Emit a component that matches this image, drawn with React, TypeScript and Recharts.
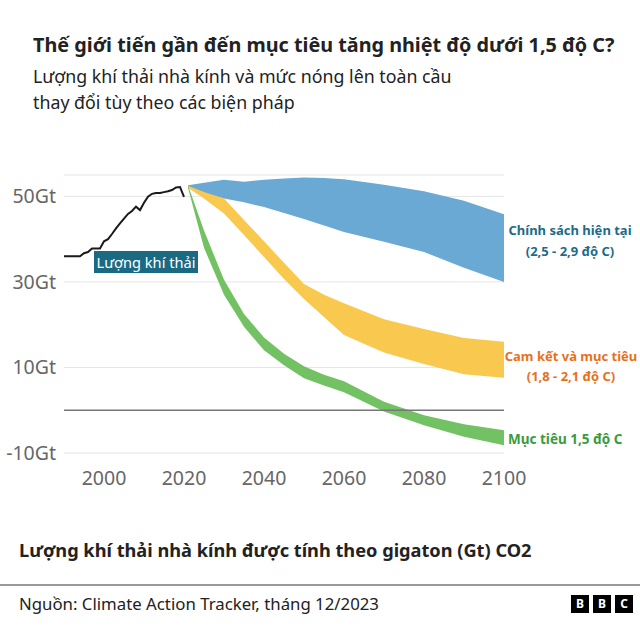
import { ComposedChart, Area, Line, XAxis, YAxis, CartesianGrid, ReferenceLine } from 'recharts';

// historical emissions, Gt CO2
const histYears = [1990, 1991, 1992, 1993, 1994, 1995, 1996, 1997, 1998, 1999, 2000, 2001, 2002, 2003, 2004, 2005, 2006, 2007, 2008, 2009, 2010, 2011, 2012, 2013, 2014, 2015, 2016, 2017, 2018, 2019, 2020];
const histValues = [36, 36, 36, 36, 36, 36.7, 37, 37.8, 37.8, 37.8, 39.5, 40, 41.2, 42.5, 43.7, 44.8, 45.9, 46.6, 47.6, 46.8, 48.5, 49.9, 50.6, 50.8, 50.8, 51, 51.2, 51.5, 52.1, 52.2, 49.9];

// scenario ranges
const bandYears = [2021, 2025, 2030, 2035, 2040, 2045, 2050, 2055, 2060, 2070, 2080, 2090, 2100];
const policyLow = [52, 50.8, 49.5, 48.6, 47.5, 46.1, 44.7, 43.2, 41.7, 39.4, 37, 33.3, 30];
const policyHigh = [52.6, 53.2, 53.9, 53.4, 53.9, 54.2, 54.4, 54.3, 54, 52.7, 51.2, 49, 45.8];
const pledgeLow = [52, 49.5, 46, 41, 35.8, 30.7, 26, 21.8, 17.6, 13.5, 10.8, 8.4, 7.6];
const pledgeHigh = [52.5, 51, 49.5, 44.5, 39.5, 34.5, 29.5, 27, 25, 21.3, 19, 16.9, 16];
const targetLow = [52, 38, 27, 19.5, 14, 10.5, 7.5, 5.8, 4.2, -0.3, -3.5, -6.2, -8.2];
const targetHigh = [52.6, 42, 30.5, 22.5, 17, 13.2, 10.3, 8.3, 6.8, 2, -1.2, -3.3, -4.7];

const xTicks = [2000, 2020, 2040, 2060, 2080, 2100];
const yTicks = [-10, 10, 30, 50];

const data = [
  ...histYears.map((year, i) => ({ year, hist: histValues[i] })),
  ...bandYears.map((year, i) => ({
    year,
    policy: [policyLow[i], policyHigh[i]],
    pledge: [pledgeLow[i], pledgeHigh[i]],
    target: [targetLow[i], targetHigh[i]],
  })),
];

const font = '"Noto Sans", sans-serif';

export default function App() {
  return (
    <div style={{ position: 'absolute', left: 0, top: 0, width: 640, height: 640, background: '#fff', fontFamily: font, color: '#222' }}>
      <div style={{ position: 'absolute', left: 33, top: 31, fontSize: 19.8, fontWeight: 700, whiteSpace: 'nowrap' }}>
        Thế giới tiến gần đến mục tiêu tăng nhiệt độ dưới 1,5 độ C?
      </div>
      <div style={{ position: 'absolute', left: 33, top: 63, fontSize: 17.8, lineHeight: '26px', whiteSpace: 'nowrap' }}>
        Lượng khí thải nhà kính và mức nóng lên toàn cầu<br />thay đổi tùy theo các biện pháp
      </div>

      <div style={{ position: 'absolute', left: 0, top: 0 }}>
        <ComposedChart width={640} height={640} data={data} margin={{ top: 175, right: 136, bottom: 157, left: 8 }}>
          <CartesianGrid vertical={false} stroke="#e4e4e4" />
          <XAxis
            dataKey="year"
            type="number"
            domain={[1990, 2100]}
            ticks={xTicks}
            tickLine={false}
            axisLine={false}
            tickMargin={12}
            tick={{ fill: '#666', fontSize: 19.5, fontFamily: font }}
          />
          <YAxis
            type="number"
            domain={[-10, 55]}
            ticks={yTicks}
            width={56}
            tickLine={false}
            axisLine={false}
            tickFormatter={(v) => `${v}Gt`}
            tick={{ fill: '#666', fontSize: 19.5, fontFamily: font }}
          />
          <ReferenceLine y={0} stroke="#777" strokeWidth={1.5} />
          <Area type="linear" dataKey="policy" fill="#6ba9d5" fillOpacity={1} stroke="none" connectNulls isAnimationActive={false} />
          <Area type="linear" dataKey="pledge" fill="#f9c84f" fillOpacity={1} stroke="none" connectNulls isAnimationActive={false} />
          <Area type="linear" dataKey="target" fill="#72c162" fillOpacity={1} stroke="none" connectNulls isAnimationActive={false} />
          <Line type="linear" dataKey="hist" stroke="#1a1a1a" strokeWidth={2} dot={false} connectNulls isAnimationActive={false} />
        </ComposedChart>
      </div>

      <div style={{ position: 'absolute', left: 94, top: 251, width: 104, height: 22, background: '#1b6a84', color: '#fff', fontSize: 14.6, lineHeight: '22px', textAlign: 'center', whiteSpace: 'nowrap' }}>
        Lượng khí thải
      </div>
      <div style={{ position: 'absolute', left: 500, top: 220, width: 140, textAlign: 'center', color: '#1c6b8a', fontSize: 13, fontWeight: 700, lineHeight: '21px' }}>
        Chính sách hiện tại<br />(2,5 - 2,9 độ C)
      </div>
      <div style={{ position: 'absolute', left: 501, top: 346, width: 140, textAlign: 'center', color: '#e8701c', fontSize: 13, fontWeight: 700, lineHeight: '20px' }}>
        Cam kết và mục tiêu<br />(1,8 - 2,1 độ C)
      </div>
      <div style={{ position: 'absolute', left: 508, top: 429, color: '#3a9b3c', fontSize: 13.5, fontWeight: 700, lineHeight: '21px', whiteSpace: 'nowrap' }}>
        Mục tiêu 1,5 độ C
      </div>

      <div style={{ position: 'absolute', left: 19, top: 538, fontSize: 18.2, fontWeight: 700, whiteSpace: 'nowrap' }}>
        Lượng khí thải nhà kính được tính theo gigaton (Gt) CO2
      </div>
      <div style={{ position: 'absolute', left: 0, top: 584, width: 640, height: 2, background: '#9a9a9a' }} />
      <div style={{ position: 'absolute', left: 19, top: 592, fontSize: 16.8, whiteSpace: 'nowrap' }}>
        Nguồn: Climate Action Tracker, tháng 12/2023
      </div>
      <div style={{ position: 'absolute', left: 571, top: 595, display: 'flex', gap: 4 }}>
        {['B', 'B', 'C'].map((ch, i) => (
          <div key={i} style={{ width: 18, height: 18, background: '#000', color: '#fff', fontSize: 12, fontWeight: 700, lineHeight: '18px', textAlign: 'center', fontFamily: font }}>
            {ch}
          </div>
        ))}
      </div>
    </div>
  );
}
